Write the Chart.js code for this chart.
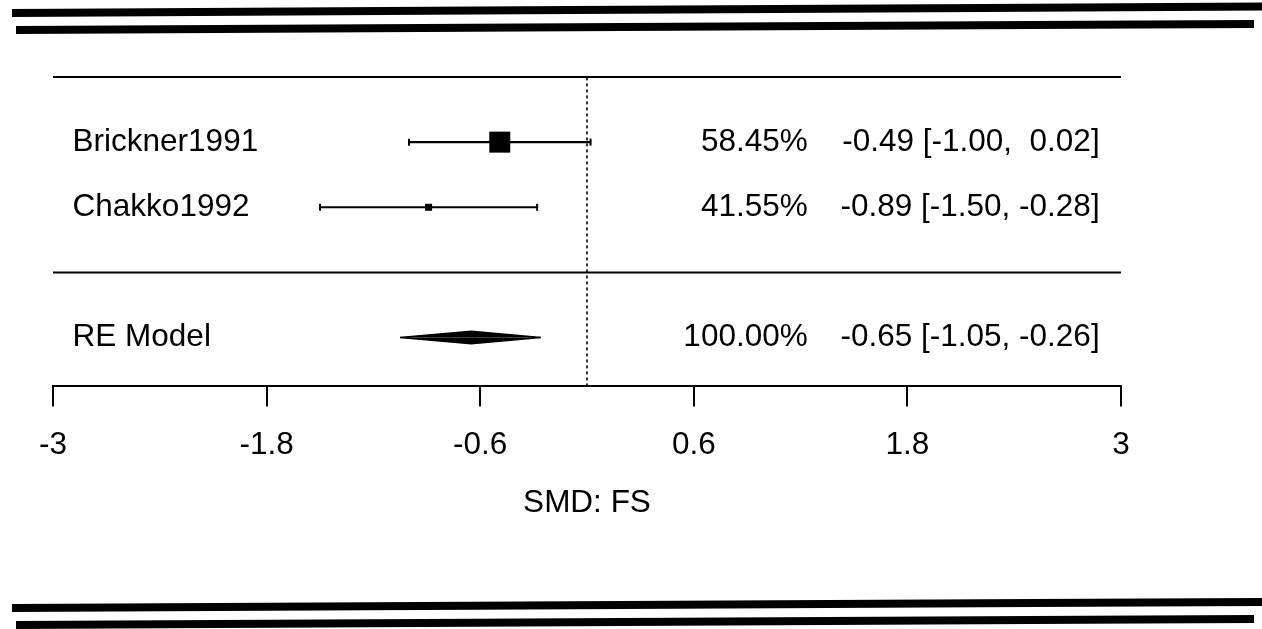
<!DOCTYPE html>
<html>
<head>
<meta charset="utf-8">
<title>Forest plot - SMD: FS</title>
<script src="https://cdn.jsdelivr.net/npm/chart.js@4.4.1/dist/chart.umd.min.js"></script>
<style>
    html, body { margin: 0; padding: 0; background: #fff; overflow: hidden; }
    #wrap { position: relative; width: 1262px; height: 629px; }
    #forestChart { position: absolute; left: 0; top: 0; }
    .rule { position: absolute; height: 8px; background: #000; transform-origin: 0 50%; }
</style>
</head>
<body>
<div id="wrap">
    <canvas id="forestChart" width="1262" height="629"></canvas>
    <div class="rule" style="left:12px; top:9px; width:1250px; transform:rotate(-0.30deg)"></div>
    <div class="rule" style="left:16px; top:25.5px; width:1238px; transform:rotate(-0.28deg)"></div>
    <div class="rule" style="left:12px; top:603.5px; width:1250px; transform:rotate(-0.28deg)"></div>
    <div class="rule" style="left:16px; top:621px; width:1238px; transform:rotate(-0.28deg)"></div>
</div>
<script>
// data
const studies = ['Brickner1991', 'Chakko1992'];
const estimates = [-0.49, -0.89];
const ciLower = [-1.00, -1.50];
const ciUpper = [0.02, -0.28];
const weights = [58.45, 41.55];

const summaryLabel = 'RE Model';
const summaryEst = -0.65;
const summaryLower = -1.05;
const summaryUpper = -0.26;
const summaryWeight = 100.00;

const xTicks = [-3, -1.8, -0.6, 0.6, 1.8, 3];
const xTitle = 'SMD: FS';

// layout bits (data units)
const FONT = '"Liberation Sans", Arial, Helvetica, sans-serif';
const FONT_SIZE = 31.5;
const k = studies.length;
const rows = studies.map((_, i) => k - i);   // 2, 1
const summaryRow = -1;
const topRow = k + 1;
const yMin = -1.75;
const labelX = -2.89;
const weightX = 1.24;
const ciTextX = 2.88;
const diamondHalf = 0.095;

// metafor style: square size rescaled from weights into 0.5..1.5
const wMin = Math.min(...weights), wMax = Math.max(...weights);
const squareRadius = weights.map(w => {
    const side = 14 * (0.5 + (w - wMin) / (wMax - wMin));
    return side / 2 / Math.SQRT1_2;
});

function fmt(v) {
    return (v >= 0 ? ' ' : '') + v.toFixed(2);
}
function ciText(est, lb, ub) {
    return est.toFixed(2) + ' [' + fmt(lb) + ', ' + fmt(ub) + ']';
}

const datasets = [];

// estimate squares (on top)
datasets.push({
    data: estimates.map((e, i) => ({ x: e, y: rows[i] })),
    showLine: false,
    pointStyle: 'rect',
    pointRadius: squareRadius,
    pointBackgroundColor: '#000',
    pointBorderWidth: 0
});

// CI whiskers with end caps
studies.forEach((_, i) => {
    datasets.push({
        data: [{ x: ciLower[i], y: rows[i] }, { x: ciUpper[i], y: rows[i] }],
        borderColor: '#000',
        borderWidth: 2.2,
        pointStyle: 'line',
        pointRotation: 90,
        pointRadius: 3.5,
        pointBorderColor: '#000',
        pointBorderWidth: 2
    });
});

// summary diamond: upper and lower halves filled to the row line
[1, -1].forEach(sign => {
    datasets.push({
        data: [
            { x: summaryLower, y: summaryRow },
            { x: summaryEst, y: summaryRow + sign * diamondHalf },
            { x: summaryUpper, y: summaryRow }
        ],
        borderColor: '#000',
        borderWidth: 1.5,
        backgroundColor: '#000',
        fill: { value: summaryRow },
        pointRadius: 0
    });
});

// top rule and separator
[topRow, 0].forEach(r => {
    datasets.push({
        data: [{ x: xTicks[0], y: r }, { x: xTicks[xTicks.length - 1], y: r }],
        borderColor: '#000',
        borderWidth: 2,
        pointRadius: 0
    });
});

// reference line at 0
datasets.push({
    data: [{ x: 0, y: yMin }, { x: 0, y: topRow }],
    borderColor: '#000',
    borderWidth: 1.6,
    borderDash: [3, 3],
    pointRadius: 0
});

const textPlugin = {
    id: 'forestText',
    afterDatasetsDraw(chart) {
        const { ctx, scales: { x, y } } = chart;
        ctx.save();
        ctx.font = FONT_SIZE + 'px ' + FONT;
        ctx.fillStyle = '#000';
        ctx.textBaseline = 'middle';

        function row(label, w, est, lb, ub, r) {
            const py = y.getPixelForValue(r);
            ctx.textAlign = 'left';
            ctx.fillText(label, x.getPixelForValue(labelX), py);
            ctx.textAlign = 'right';
            ctx.fillText(w.toFixed(2) + '%', x.getPixelForValue(weightX), py);
            ctx.fillText(ciText(est, lb, ub), x.getPixelForValue(ciTextX), py);
        }

        studies.forEach((s, i) => row(s, weights[i], estimates[i], ciLower[i], ciUpper[i], rows[i]));
        row(summaryLabel, summaryWeight, summaryEst, summaryLower, summaryUpper, summaryRow);
        ctx.restore();
    }
};

new Chart(document.getElementById('forestChart'), {
    type: 'line',
    data: { datasets },
    options: {
        responsive: false,
        devicePixelRatio: 1,
        animation: false,
        clip: false,
        layout: { padding: { left: 53, right: 141, top: 77, bottom: 107 } },
        plugins: {
            legend: { display: false },
            tooltip: { enabled: false }
        },
        scales: {
            x: {
                type: 'linear',
                min: xTicks[0],
                max: xTicks[xTicks.length - 1],
                afterBuildTicks: scale => { scale.ticks = xTicks.map(v => ({ value: v })); },
                grid: { drawOnChartArea: false, drawTicks: true, tickLength: 20, color: '#000', lineWidth: 2 },
                border: { display: true, color: '#000', width: 2 },
                ticks: {
                    color: '#000',
                    font: { family: FONT, size: FONT_SIZE },
                    padding: 20,
                    maxRotation: 0,
                    autoSkip: false,
                    callback: v => String(v)
                },
                title: {
                    display: true,
                    text: xTitle,
                    color: '#000',
                    font: { family: FONT, size: FONT_SIZE },
                    padding: { top: 0, bottom: 0 }
                }
            },
            y: {
                type: 'linear',
                min: yMin,
                max: topRow,
                display: false
            }
        }
    },
    plugins: [textPlugin]
});
</script>
</body>
</html>
